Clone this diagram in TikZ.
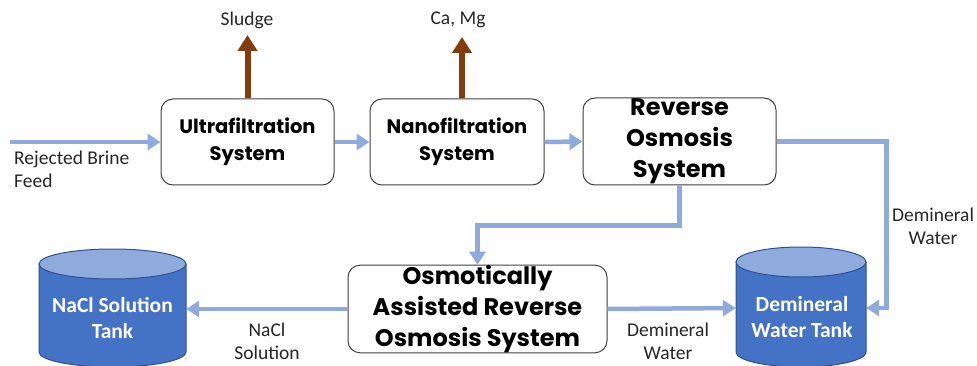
\documentclass[tikz,border=0pt]{standalone}
\usepackage{fontspec}
\setmainfont{Carlito}
\newfontfamily\boxfont{Poppins}
\usetikzlibrary{arrows.meta}
\definecolor{lblue}{HTML}{8FAADC}
\definecolor{tankblue}{HTML}{4472C4}
\definecolor{tankedge}{HTML}{2F528F}
\definecolor{brownc}{HTML}{843C0C}
\tikzset{
  sysbox/.style={draw=black!75, line width=1pt, rounded corners=12pt, fill=white, inner sep=0pt, align=center},
  flow/.style={draw=lblue, line width=4.5pt, -{Triangle[width=16pt,length=13pt]}},
  waste/.style={draw=brownc, line width=6pt, -{Triangle[width=19pt,length=16pt]}},
  lbl/.style={font=\fontsize{19.5}{23}\selectfont, text=black!85, align=center, inner sep=0pt},
  tanktxt/.style={font=\fontsize{21.5}{26}\selectfont\bfseries, text=white, align=center, inner sep=0pt},
  small/.style={font=\boxfont\bfseries\fontsize{19.5}{27}\selectfont},
  big/.style={font=\boxfont\bfseries\fontsize{24}{31}\selectfont}
}
\newcommand{\tankdraw}[4]{% #1 cx, #2 rx, #3 top center y, #4 bottom center y
  \fill[tankblue, draw=tankedge, line width=1pt] (#1-#2,#3) -- (#1-#2,#4) arc[start angle=180,end angle=360,x radius=#2,y radius=-15] -- (#1+#2,#3) -- cycle;
  \filldraw[fill=lblue, draw=tankedge, line width=1pt] (#1,#3) ellipse[x radius=#2, y radius=15];
}
\begin{document}
\begin{tikzpicture}[x=1pt,y=-1pt]
\useasboundingbox (0,0) rectangle (977,366);
% system boxes
\node[sysbox, small, minimum width=173pt, minimum height=86pt] (uf) at (247.5,142) {Ultrafiltration\\System};
\node[sysbox, small, minimum width=174pt, minimum height=86pt] (nf) at (457,142) {Nanofiltration\\System};
\node[sysbox, big, minimum width=193pt, minimum height=87pt] (ro) at (679.5,141.5) {Reverse\\Osmosis\\System};
\node[sysbox, big, minimum width=259pt, minimum height=86pt] (oaro) at (477.5,309) {Osmotically\\Assisted Reverse\\Osmosis System};
% tanks
\tankdraw{112.5}{73.5}{264}{352}
\tankdraw{801}{65}{262}{352}
\node[minimum width=147pt, minimum height=90pt, inner sep=0pt] (nacl) at (112.5,309) {};
\node[minimum width=130pt, minimum height=90pt, inner sep=0pt] (dem) at (801,308) {};
\node[tanktxt] (nacltxt) at (112.5,318) {NaCl Solution\\Tank};
\node[tanktxt] (demtxt) at (802,317) {Demineral\\Water Tank};
% labels
\node[lbl] (sludge) at (247,20) {Sludge};
\node[lbl] (camg) at (458,20) {Ca, Mg};
\node[lbl, align=left, anchor=north west] (feedtxt) at (14,151) {Rejected Brine\\Feed};
\node[lbl] (nacllbl) at (267,341) {NaCl\\Solution};
\node[lbl] (demlbl1) at (668,341) {Demineral\\Water};
\node[lbl] (demlbl2) at (933,226) {Demineral\\Water};
% connectors
\coordinate (feed) at (10,142);
\draw[flow] (feed) -- (uf.west);
\draw[flow] (uf.east) -- (nf.west);
\draw[flow] (nf.east) -- (ro.west);
\draw[flow] (ro.east) -- ++(110,0) |- (dem.east);
\draw[flow] (ro.south) -- ++(0,40) -| (oaro.north);
\draw[flow] (oaro.west) -- (nacl.east);
\draw[flow] (oaro.east) -- (dem.west);
\coordinate (sl) at (247.5,35);
\coordinate (cm) at (462,37);
\draw[waste] (uf.north) -- (sl);
\draw[waste] (uf.north -| cm) -- (cm);
\end{tikzpicture}
\end{document}
